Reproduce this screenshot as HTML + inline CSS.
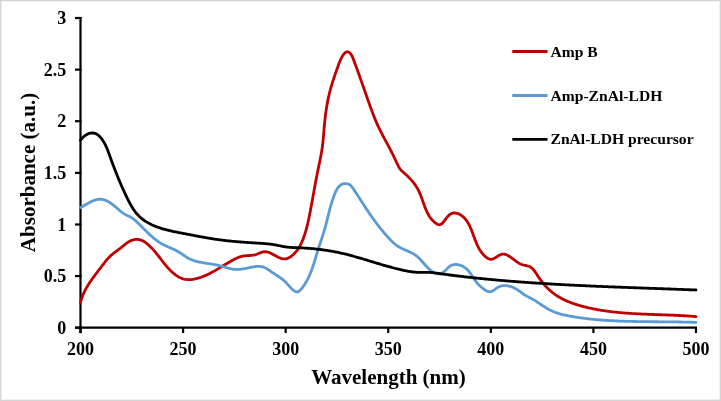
<!DOCTYPE html>
<html><head><meta charset="utf-8"><style>
html,body{margin:0;padding:0;background:#fff;}
body{width:721px;height:401px;overflow:hidden;}
svg{display:block;will-change:transform;font-family:"Liberation Serif",serif;font-weight:bold;}
</style></head><body>
<svg width="721" height="401" viewBox="0 0 721 401">
<rect x="0" y="0" width="721" height="401" fill="#fff"/>
<rect x="0.5" y="0.5" width="720" height="400" fill="none" stroke="#d4d4d4" stroke-width="1"/>
<rect x="1.5" y="1.5" width="718" height="398" fill="none" stroke="#efefef" stroke-width="1"/>
<g stroke="#000" stroke-width="2.2" fill="none">
<line x1="80.5" y1="17.0" x2="80.5" y2="333.2"/>
<line x1="75" y1="327.7" x2="697.0" y2="327.7"/>
<line x1="75" y1="327.70" x2="81.5" y2="327.70"/><line x1="75" y1="276.08" x2="81.5" y2="276.08"/><line x1="75" y1="224.47" x2="81.5" y2="224.47"/><line x1="75" y1="172.85" x2="81.5" y2="172.85"/><line x1="75" y1="121.23" x2="81.5" y2="121.23"/><line x1="75" y1="69.62" x2="81.5" y2="69.62"/><line x1="75" y1="18.00" x2="81.5" y2="18.00"/><line x1="80.50" y1="327.7" x2="80.50" y2="333"/><line x1="183.08" y1="327.7" x2="183.08" y2="333"/><line x1="285.67" y1="327.7" x2="285.67" y2="333"/><line x1="388.25" y1="327.7" x2="388.25" y2="333"/><line x1="490.83" y1="327.7" x2="490.83" y2="333"/><line x1="593.42" y1="327.7" x2="593.42" y2="333"/><line x1="696.00" y1="327.7" x2="696.00" y2="333"/>
</g>
<g font-size="18" fill="#000">
<text x="66.3" y="333.90" text-anchor="end">0</text><text x="66.3" y="282.28" text-anchor="end">0.5</text><text x="66.3" y="230.67" text-anchor="end">1</text><text x="66.3" y="179.05" text-anchor="end">1.5</text><text x="66.3" y="127.43" text-anchor="end">2</text><text x="66.3" y="75.82" text-anchor="end">2.5</text><text x="66.3" y="24.20" text-anchor="end">3</text>
<text x="80.50" y="354.8" text-anchor="middle">200</text><text x="183.08" y="354.8" text-anchor="middle">250</text><text x="285.67" y="354.8" text-anchor="middle">300</text><text x="388.25" y="354.8" text-anchor="middle">350</text><text x="490.83" y="354.8" text-anchor="middle">400</text><text x="593.42" y="354.8" text-anchor="middle">450</text><text x="696.00" y="354.8" text-anchor="middle">500</text>
</g>
<text x="388.5" y="383.5" font-size="21" text-anchor="middle">Wavelength (nm)</text>
<text transform="translate(34.9,172.5) rotate(-90)" font-size="21" text-anchor="middle">Absorbance (a.u.)</text>
<g fill="none" stroke-width="2.8" stroke-linejoin="round" stroke-linecap="round">
<path stroke="#C00000" d="M80.50,302.50 L80.76,301.50 L81.03,300.50 L81.32,299.52 L81.63,298.55 L81.96,297.59 L82.30,296.64 L82.67,295.70 L83.04,294.78 L83.43,293.86 L83.84,292.95 L84.26,292.05 L84.70,291.15 L85.14,290.27 L85.61,289.39 L86.08,288.52 L86.56,287.66 L87.06,286.80 L87.56,285.95 L88.08,285.11 L88.61,284.27 L89.14,283.43 L89.69,282.60 L90.24,281.78 L90.80,280.96 L91.36,280.14 L91.93,279.33 L92.51,278.52 L93.10,277.71 L93.69,276.91 L94.28,276.10 L94.88,275.30 L95.48,274.50 L96.08,273.70 L96.69,272.90 L97.29,272.10 L97.90,271.30 L98.51,270.50 L99.12,269.70 L99.73,268.90 L100.34,268.10 L100.95,267.29 L101.56,266.48 L102.17,265.68 L102.78,264.87 L103.39,264.07 L104.01,263.28 L104.63,262.49 L105.26,261.70 L105.89,260.92 L106.53,260.16 L107.18,259.40 L107.84,258.65 L108.52,257.92 L109.20,257.20 L109.89,256.49 L110.60,255.80 L111.33,255.13 L112.07,254.48 L112.82,253.84 L113.59,253.23 L114.38,252.63 L115.18,252.04 L115.98,251.47 L116.79,250.89 L117.60,250.31 L118.41,249.72 L119.21,249.13 L120.00,248.52 L120.78,247.89 L121.56,247.25 L122.33,246.60 L123.11,245.96 L123.88,245.31 L124.67,244.68 L125.46,244.05 L126.27,243.44 L127.09,242.86 L127.94,242.30 L128.80,241.77 L129.69,241.27 L130.60,240.82 L131.52,240.41 L132.46,240.06 L133.40,239.77 L134.35,239.54 L135.29,239.38 L136.24,239.30 L137.18,239.30 L138.11,239.38 L139.04,239.54 L139.95,239.77 L140.86,240.06 L141.76,240.42 L142.64,240.84 L143.52,241.31 L144.38,241.82 L145.23,242.38 L146.07,242.99 L146.90,243.62 L147.71,244.29 L148.50,244.98 L149.28,245.69 L150.05,246.42 L150.80,247.16 L151.53,247.91 L152.24,248.66 L152.94,249.42 L153.62,250.18 L154.29,250.94 L154.95,251.71 L155.60,252.48 L156.23,253.25 L156.86,254.03 L157.48,254.80 L158.09,255.58 L158.70,256.36 L159.30,257.14 L159.90,257.91 L160.50,258.69 L161.09,259.47 L161.69,260.24 L162.29,261.02 L162.89,261.79 L163.49,262.56 L164.10,263.32 L164.72,264.09 L165.34,264.85 L165.97,265.60 L166.61,266.35 L167.26,267.10 L167.92,267.84 L168.60,268.57 L169.28,269.30 L169.99,270.02 L170.71,270.73 L171.44,271.44 L172.19,272.13 L172.96,272.81 L173.74,273.47 L174.54,274.11 L175.35,274.73 L176.17,275.32 L177.01,275.89 L177.87,276.43 L178.73,276.93 L179.61,277.40 L180.51,277.83 L181.42,278.22 L182.34,278.57 L183.27,278.87 L184.21,279.12 L185.17,279.32 L186.14,279.48 L187.12,279.58 L188.11,279.64 L189.10,279.65 L190.10,279.62 L191.10,279.55 L192.11,279.44 L193.12,279.30 L194.12,279.13 L195.13,278.93 L196.13,278.70 L197.13,278.45 L198.12,278.17 L199.10,277.88 L200.08,277.56 L201.04,277.24 L201.99,276.89 L202.94,276.54 L203.88,276.17 L204.80,275.78 L205.72,275.39 L206.64,274.98 L207.54,274.56 L208.44,274.13 L209.33,273.69 L210.22,273.24 L211.10,272.79 L211.98,272.32 L212.85,271.85 L213.72,271.37 L214.58,270.88 L215.44,270.39 L216.30,269.89 L217.15,269.39 L218.00,268.88 L218.86,268.37 L219.70,267.86 L220.55,267.35 L221.40,266.83 L222.25,266.31 L223.10,265.79 L223.95,265.28 L224.80,264.76 L225.66,264.24 L226.51,263.73 L227.37,263.22 L228.23,262.71 L229.09,262.21 L229.96,261.71 L230.83,261.21 L231.71,260.72 L232.59,260.24 L233.48,259.76 L234.37,259.29 L235.27,258.83 L236.18,258.39 L237.10,257.96 L238.02,257.56 L238.95,257.19 L239.89,256.85 L240.83,256.55 L241.79,256.29 L242.76,256.09 L243.73,255.93 L244.72,255.81 L245.71,255.72 L246.70,255.65 L247.70,255.60 L248.71,255.55 L249.71,255.50 L250.71,255.43 L251.71,255.34 L252.71,255.21 L253.70,255.04 L254.69,254.82 L255.66,254.55 L256.63,254.22 L257.59,253.86 L258.55,253.48 L259.50,253.10 L260.44,252.73 L261.39,252.39 L262.33,252.11 L263.26,251.89 L264.20,251.75 L265.14,251.70 L266.08,251.76 L267.02,251.91 L267.96,252.14 L268.90,252.44 L269.84,252.81 L270.78,253.23 L271.72,253.68 L272.66,254.17 L273.60,254.69 L274.54,255.21 L275.47,255.74 L276.41,256.25 L277.34,256.75 L278.28,257.23 L279.21,257.66 L280.14,258.05 L281.06,258.38 L281.99,258.64 L282.91,258.82 L283.83,258.92 L284.74,258.91 L285.65,258.81 L286.56,258.62 L287.46,258.35 L288.34,257.99 L289.22,257.57 L290.08,257.07 L290.92,256.52 L291.74,255.91 L292.55,255.26 L293.33,254.56 L294.09,253.83 L294.82,253.07 L295.52,252.30 L296.19,251.50 L296.83,250.69 L297.44,249.87 L298.02,249.04 L298.57,248.20 L299.10,247.35 L299.61,246.49 L300.09,245.62 L300.55,244.74 L301.00,243.85 L301.42,242.95 L301.83,242.05 L302.22,241.14 L302.60,240.23 L302.96,239.31 L303.32,238.38 L303.66,237.45 L303.99,236.52 L304.32,235.58 L304.63,234.64 L304.94,233.70 L305.24,232.75 L305.53,231.80 L305.81,230.84 L306.09,229.89 L306.35,228.93 L306.61,227.96 L306.87,227.00 L307.12,226.03 L307.36,225.06 L307.59,224.09 L307.82,223.11 L308.05,222.13 L308.27,221.16 L308.48,220.18 L308.70,219.19 L308.90,218.21 L309.11,217.23 L309.31,216.25 L309.51,215.26 L309.70,214.28 L309.89,213.29 L310.08,212.30 L310.27,211.32 L310.46,210.33 L310.64,209.35 L310.83,208.36 L311.01,207.37 L311.19,206.39 L311.38,205.40 L311.56,204.42 L311.74,203.44 L311.92,202.45 L312.10,201.47 L312.27,200.48 L312.45,199.50 L312.63,198.52 L312.81,197.53 L312.99,196.55 L313.16,195.57 L313.34,194.59 L313.52,193.60 L313.69,192.62 L313.87,191.64 L314.05,190.66 L314.23,189.67 L314.41,188.69 L314.58,187.71 L314.76,186.73 L314.94,185.75 L315.12,184.77 L315.31,183.79 L315.49,182.80 L315.67,181.82 L315.85,180.84 L316.04,179.86 L316.23,178.88 L316.41,177.90 L316.60,176.92 L316.79,175.94 L316.98,174.96 L317.18,173.98 L317.37,173.00 L317.57,172.02 L317.76,171.04 L317.96,170.06 L318.16,169.08 L318.37,168.09 L318.57,167.11 L318.78,166.13 L318.98,165.15 L319.19,164.17 L319.39,163.19 L319.59,162.21 L319.79,161.23 L319.99,160.25 L320.19,159.26 L320.39,158.28 L320.58,157.30 L320.77,156.32 L320.95,155.33 L321.14,154.35 L321.31,153.36 L321.48,152.38 L321.65,151.39 L321.81,150.41 L321.97,149.42 L322.11,148.43 L322.25,147.44 L322.39,146.46 L322.51,145.47 L322.63,144.48 L322.75,143.49 L322.86,142.50 L322.96,141.51 L323.06,140.51 L323.16,139.52 L323.25,138.53 L323.34,137.54 L323.42,136.54 L323.51,135.55 L323.59,134.55 L323.67,133.56 L323.75,132.56 L323.84,131.57 L323.92,130.57 L324.00,129.58 L324.09,128.58 L324.17,127.59 L324.26,126.59 L324.35,125.60 L324.45,124.60 L324.54,123.61 L324.64,122.61 L324.75,121.61 L324.85,120.62 L324.96,119.62 L325.07,118.63 L325.19,117.64 L325.31,116.64 L325.43,115.65 L325.55,114.66 L325.68,113.66 L325.82,112.67 L325.96,111.68 L326.10,110.69 L326.25,109.70 L326.40,108.71 L326.55,107.72 L326.71,106.73 L326.88,105.75 L327.05,104.76 L327.22,103.78 L327.40,102.79 L327.58,101.81 L327.77,100.83 L327.97,99.85 L328.17,98.87 L328.38,97.89 L328.59,96.91 L328.81,95.94 L329.03,94.96 L329.26,93.99 L329.50,93.02 L329.74,92.05 L329.99,91.08 L330.24,90.12 L330.50,89.15 L330.77,88.19 L331.05,87.23 L331.32,86.27 L331.61,85.31 L331.90,84.35 L332.19,83.40 L332.49,82.44 L332.80,81.49 L333.10,80.54 L333.41,79.59 L333.72,78.64 L334.04,77.69 L334.36,76.75 L334.68,75.80 L335.00,74.86 L335.33,73.91 L335.65,72.97 L335.98,72.03 L336.31,71.10 L336.63,70.16 L336.96,69.22 L337.29,68.29 L337.61,67.35 L337.94,66.42 L338.27,65.48 L338.61,64.55 L338.96,63.61 L339.33,62.67 L339.71,61.72 L340.11,60.77 L340.54,59.82 L340.99,58.85 L341.48,57.88 L341.99,56.91 L342.55,55.95 L343.13,55.03 L343.74,54.18 L344.37,53.42 L345.04,52.77 L345.72,52.27 L346.43,51.93 L347.15,51.79 L347.89,51.85 L348.63,52.12 L349.35,52.55 L350.02,53.11 L350.63,53.78 L351.19,54.54 L351.70,55.37 L352.17,56.27 L352.60,57.21 L353.00,58.19 L353.39,59.19 L353.77,60.20 L354.14,61.21 L354.51,62.22 L354.87,63.21 L355.23,64.21 L355.60,65.19 L355.95,66.18 L356.31,67.15 L356.66,68.13 L357.01,69.10 L357.36,70.06 L357.71,71.02 L358.06,71.98 L358.40,72.94 L358.74,73.89 L359.08,74.84 L359.42,75.78 L359.76,76.73 L360.09,77.67 L360.43,78.61 L360.76,79.54 L361.09,80.48 L361.42,81.41 L361.75,82.35 L362.08,83.28 L362.41,84.21 L362.74,85.13 L363.06,86.06 L363.39,86.99 L363.72,87.92 L364.04,88.85 L364.37,89.78 L364.69,90.70 L365.02,91.63 L365.34,92.56 L365.67,93.49 L365.99,94.43 L366.32,95.36 L366.64,96.29 L366.97,97.23 L367.30,98.17 L367.63,99.11 L367.95,100.05 L368.28,100.99 L368.61,101.93 L368.95,102.88 L369.28,103.82 L369.62,104.76 L369.95,105.71 L370.29,106.65 L370.63,107.60 L370.98,108.54 L371.32,109.48 L371.67,110.43 L372.03,111.37 L372.38,112.31 L372.74,113.25 L373.10,114.19 L373.46,115.13 L373.83,116.07 L374.20,117.00 L374.58,117.93 L374.96,118.86 L375.34,119.79 L375.73,120.72 L376.12,121.64 L376.52,122.56 L376.92,123.48 L377.33,124.40 L377.74,125.31 L378.16,126.22 L378.59,127.13 L379.02,128.03 L379.45,128.93 L379.89,129.83 L380.33,130.72 L380.78,131.61 L381.23,132.50 L381.69,133.38 L382.14,134.27 L382.61,135.15 L383.07,136.03 L383.54,136.91 L384.00,137.79 L384.47,138.67 L384.94,139.55 L385.42,140.42 L385.89,141.30 L386.36,142.18 L386.84,143.05 L387.31,143.93 L387.78,144.81 L388.25,145.69 L388.72,146.57 L389.19,147.45 L389.65,148.34 L390.12,149.22 L390.58,150.11 L391.04,151.00 L391.49,151.89 L391.94,152.78 L392.39,153.68 L392.83,154.58 L393.28,155.48 L393.72,156.38 L394.15,157.29 L394.59,158.19 L395.02,159.10 L395.45,160.01 L395.88,160.92 L396.30,161.83 L396.73,162.75 L397.16,163.66 L397.59,164.57 L398.03,165.47 L398.49,166.35 L398.97,167.22 L399.49,168.06 L400.05,168.88 L400.65,169.66 L401.29,170.40 L401.98,171.11 L402.70,171.80 L403.45,172.48 L404.20,173.14 L404.97,173.80 L405.72,174.47 L406.47,175.14 L407.21,175.82 L407.94,176.51 L408.65,177.21 L409.36,177.92 L410.05,178.64 L410.73,179.36 L411.39,180.10 L412.04,180.85 L412.68,181.61 L413.31,182.38 L413.91,183.16 L414.51,183.95 L415.08,184.76 L415.64,185.57 L416.19,186.40 L416.71,187.24 L417.22,188.09 L417.71,188.96 L418.18,189.84 L418.63,190.73 L419.07,191.64 L419.49,192.55 L419.89,193.48 L420.28,194.42 L420.66,195.36 L421.03,196.31 L421.39,197.27 L421.75,198.23 L422.10,199.19 L422.44,200.16 L422.78,201.13 L423.12,202.09 L423.47,203.06 L423.81,204.03 L424.16,204.99 L424.51,205.95 L424.87,206.90 L425.24,207.85 L425.62,208.79 L426.01,209.72 L426.41,210.64 L426.82,211.55 L427.25,212.45 L427.70,213.34 L428.17,214.21 L428.65,215.07 L429.16,215.91 L429.69,216.74 L430.25,217.54 L430.83,218.33 L431.44,219.10 L432.08,219.84 L432.74,220.57 L433.45,221.26 L434.18,221.94 L434.95,222.59 L435.75,223.20 L436.59,223.77 L437.43,224.24 L438.27,224.57 L439.09,224.75 L439.89,224.72 L440.65,224.48 L441.38,224.07 L442.09,223.49 L442.79,222.79 L443.48,221.98 L444.16,221.09 L444.86,220.16 L445.56,219.20 L446.28,218.24 L447.03,217.30 L447.80,216.42 L448.60,215.60 L449.43,214.87 L450.28,214.24 L451.16,213.73 L452.06,213.36 L452.98,213.11 L453.91,212.99 L454.85,212.98 L455.80,213.07 L456.74,213.26 L457.67,213.53 L458.59,213.89 L459.48,214.31 L460.36,214.78 L461.20,215.31 L462.00,215.88 L462.77,216.49 L463.51,217.14 L464.21,217.82 L464.88,218.53 L465.52,219.27 L466.13,220.05 L466.72,220.84 L467.27,221.67 L467.81,222.51 L468.32,223.38 L468.81,224.27 L469.28,225.17 L469.73,226.09 L470.17,227.02 L470.59,227.96 L470.99,228.91 L471.39,229.87 L471.77,230.83 L472.14,231.79 L472.51,232.76 L472.87,233.73 L473.22,234.69 L473.57,235.66 L473.92,236.62 L474.27,237.58 L474.62,238.53 L474.97,239.48 L475.33,240.43 L475.70,241.37 L476.07,242.30 L476.45,243.22 L476.85,244.14 L477.25,245.04 L477.67,245.94 L478.11,246.83 L478.57,247.70 L479.04,248.57 L479.53,249.42 L480.05,250.26 L480.59,251.08 L481.16,251.89 L481.75,252.68 L482.38,253.46 L483.03,254.22 L483.72,254.96 L484.44,255.69 L485.19,256.39 L485.98,257.07 L486.80,257.69 L487.64,258.24 L488.50,258.69 L489.38,259.03 L490.26,259.23 L491.15,259.28 L492.05,259.16 L492.94,258.90 L493.84,258.52 L494.74,258.05 L495.65,257.52 L496.56,256.95 L497.47,256.37 L498.39,255.80 L499.32,255.28 L500.25,254.82 L501.19,254.46 L502.14,254.22 L503.09,254.13 L504.05,254.18 L505.01,254.35 L505.96,254.64 L506.90,255.01 L507.83,255.46 L508.73,255.96 L509.61,256.50 L510.47,257.06 L511.30,257.65 L512.12,258.25 L512.93,258.86 L513.73,259.48 L514.53,260.10 L515.33,260.71 L516.13,261.30 L516.94,261.88 L517.77,262.43 L518.61,262.96 L519.47,263.44 L520.35,263.89 L521.26,264.28 L522.20,264.62 L523.18,264.91 L524.19,265.14 L525.22,265.34 L526.24,265.54 L527.24,265.76 L528.20,266.03 L529.11,266.37 L529.97,266.79 L530.77,267.28 L531.52,267.83 L532.24,268.44 L532.91,269.10 L533.55,269.81 L534.17,270.56 L534.76,271.34 L535.34,272.16 L535.90,272.99 L536.45,273.84 L537.00,274.70 L537.55,275.56 L538.11,276.42 L538.68,277.28 L539.25,278.12 L539.84,278.96 L540.44,279.79 L541.04,280.61 L541.66,281.42 L542.28,282.22 L542.92,283.02 L543.57,283.80 L544.22,284.57 L544.89,285.33 L545.57,286.08 L546.25,286.82 L546.95,287.55 L547.66,288.26 L548.37,288.96 L549.10,289.65 L549.84,290.33 L550.59,290.99 L551.34,291.63 L552.11,292.26 L552.89,292.88 L553.68,293.48 L554.48,294.07 L555.29,294.64 L556.10,295.20 L556.93,295.74 L557.76,296.27 L558.61,296.79 L559.46,297.29 L560.32,297.78 L561.19,298.26 L562.06,298.73 L562.95,299.18 L563.84,299.62 L564.73,300.05 L565.64,300.47 L566.54,300.87 L567.46,301.27 L568.38,301.66 L569.31,302.03 L570.24,302.40 L571.17,302.75 L572.11,303.10 L573.06,303.44 L574.00,303.76 L574.96,304.08 L575.91,304.39 L576.87,304.70 L577.83,304.99 L578.80,305.28 L579.76,305.56 L580.73,305.83 L581.70,306.10 L582.67,306.36 L583.65,306.61 L584.62,306.86 L585.60,307.10 L586.57,307.34 L587.55,307.57 L588.53,307.80 L589.51,308.02 L590.48,308.23 L591.46,308.44 L592.44,308.65 L593.42,308.85 L594.40,309.04 L595.39,309.23 L596.37,309.42 L597.35,309.60 L598.34,309.77 L599.32,309.94 L600.30,310.11 L601.29,310.27 L602.28,310.43 L603.26,310.59 L604.25,310.73 L605.24,310.88 L606.22,311.02 L607.21,311.16 L608.20,311.29 L609.19,311.42 L610.18,311.55 L611.17,311.67 L612.16,311.79 L613.15,311.91 L614.14,312.02 L615.14,312.13 L616.13,312.23 L617.12,312.33 L618.11,312.43 L619.11,312.53 L620.10,312.62 L621.10,312.71 L622.09,312.80 L623.09,312.88 L624.08,312.96 L625.08,313.04 L626.07,313.12 L627.07,313.19 L628.07,313.26 L629.06,313.33 L630.06,313.40 L631.06,313.46 L632.05,313.53 L633.05,313.59 L634.05,313.64 L635.05,313.70 L636.05,313.76 L637.05,313.81 L638.05,313.86 L639.04,313.91 L640.04,313.96 L641.04,314.01 L642.04,314.05 L643.04,314.10 L644.04,314.14 L645.04,314.18 L646.04,314.22 L647.04,314.26 L648.04,314.30 L649.04,314.34 L650.05,314.38 L651.05,314.42 L652.05,314.45 L653.05,314.49 L654.05,314.52 L655.05,314.56 L656.05,314.59 L657.05,314.63 L658.05,314.66 L659.05,314.70 L660.05,314.73 L661.06,314.77 L662.06,314.80 L663.06,314.84 L664.06,314.87 L665.06,314.91 L666.06,314.94 L667.06,314.98 L668.06,315.02 L669.06,315.05 L670.06,315.09 L671.06,315.13 L672.06,315.17 L673.06,315.21 L674.06,315.25 L675.06,315.30 L676.06,315.34 L677.06,315.39 L678.06,315.44 L679.06,315.48 L680.06,315.53 L681.05,315.59 L682.05,315.64 L683.05,315.69 L684.05,315.75 L685.05,315.81 L686.04,315.87 L687.04,315.93 L688.04,316.00 L689.03,316.07 L690.03,316.13 L691.03,316.21 L692.02,316.28 L693.02,316.36 L694.01,316.44 L695.01,316.52 L696.00,316.60"/>
<path stroke="#5B9BD5" d="M80.50,207.60 L81.28,207.17 L82.08,206.71 L82.90,206.22 L83.74,205.73 L84.60,205.21 L85.48,204.70 L86.37,204.18 L87.28,203.66 L88.20,203.14 L89.14,202.64 L90.08,202.16 L91.03,201.69 L91.99,201.26 L92.96,200.85 L93.93,200.47 L94.90,200.14 L95.87,199.85 L96.84,199.61 L97.81,199.42 L98.78,199.30 L99.74,199.23 L100.70,199.23 L101.64,199.31 L102.58,199.45 L103.52,199.65 L104.44,199.91 L105.35,200.23 L106.26,200.60 L107.15,201.02 L108.04,201.48 L108.91,201.98 L109.78,202.51 L110.63,203.07 L111.47,203.67 L112.30,204.28 L113.12,204.91 L113.93,205.56 L114.72,206.21 L115.51,206.88 L116.27,207.54 L117.03,208.20 L117.78,208.86 L118.52,209.51 L119.25,210.15 L120.00,210.78 L120.74,211.40 L121.50,212.00 L122.27,212.58 L123.07,213.13 L123.88,213.67 L124.72,214.17 L125.59,214.65 L126.50,215.10 L127.43,215.53 L128.37,215.95 L129.30,216.38 L130.21,216.84 L131.08,217.34 L131.93,217.87 L132.75,218.43 L133.54,219.02 L134.31,219.64 L135.06,220.27 L135.80,220.93 L136.53,221.60 L137.25,222.28 L137.96,222.97 L138.67,223.67 L139.38,224.37 L140.09,225.08 L140.80,225.79 L141.50,226.50 L142.21,227.21 L142.92,227.93 L143.63,228.64 L144.34,229.35 L145.05,230.07 L145.77,230.78 L146.48,231.49 L147.20,232.19 L147.93,232.89 L148.65,233.59 L149.39,234.28 L150.12,234.96 L150.86,235.64 L151.61,236.31 L152.36,236.97 L153.12,237.62 L153.89,238.26 L154.66,238.89 L155.44,239.50 L156.23,240.11 L157.03,240.70 L157.83,241.28 L158.65,241.84 L159.47,242.39 L160.31,242.92 L161.15,243.43 L162.01,243.93 L162.88,244.41 L163.75,244.87 L164.64,245.31 L165.54,245.74 L166.45,246.15 L167.36,246.56 L168.27,246.96 L169.19,247.36 L170.11,247.76 L171.03,248.15 L171.95,248.55 L172.87,248.96 L173.78,249.38 L174.69,249.81 L175.59,250.25 L176.49,250.71 L177.37,251.19 L178.24,251.69 L179.11,252.21 L179.96,252.75 L180.81,253.31 L181.65,253.87 L182.48,254.44 L183.32,255.00 L184.15,255.57 L184.99,256.12 L185.83,256.67 L186.68,257.20 L187.53,257.70 L188.40,258.19 L189.27,258.64 L190.15,259.07 L191.05,259.47 L191.95,259.84 L192.87,260.18 L193.79,260.51 L194.72,260.81 L195.66,261.09 L196.61,261.36 L197.57,261.60 L198.53,261.83 L199.50,262.05 L200.47,262.25 L201.45,262.44 L202.43,262.62 L203.42,262.80 L204.41,262.96 L205.40,263.12 L206.40,263.28 L207.39,263.43 L208.39,263.58 L209.40,263.73 L210.40,263.88 L211.40,264.04 L212.40,264.20 L213.40,264.36 L214.40,264.53 L215.40,264.71 L216.39,264.91 L217.38,265.11 L218.37,265.32 L219.35,265.56 L220.33,265.80 L221.31,266.06 L222.28,266.34 L223.25,266.62 L224.21,266.91 L225.18,267.20 L226.14,267.49 L227.10,267.77 L228.05,268.04 L229.01,268.30 L229.97,268.54 L230.93,268.76 L231.89,268.96 L232.86,269.13 L233.82,269.27 L234.79,269.38 L235.77,269.45 L236.74,269.48 L237.73,269.47 L238.71,269.43 L239.70,269.35 L240.69,269.25 L241.69,269.12 L242.69,268.97 L243.70,268.81 L244.70,268.62 L245.71,268.42 L246.73,268.21 L247.75,268.00 L248.77,267.78 L249.79,267.56 L250.82,267.34 L251.84,267.14 L252.87,266.95 L253.89,266.78 L254.90,266.63 L255.91,266.51 L256.91,266.43 L257.91,266.38 L258.89,266.38 L259.86,266.43 L260.82,266.53 L261.77,266.68 L262.71,266.90 L263.62,267.19 L264.52,267.54 L265.41,267.95 L266.29,268.40 L267.15,268.90 L268.01,269.44 L268.86,270.00 L269.70,270.58 L270.54,271.17 L271.38,271.77 L272.22,272.36 L273.06,272.94 L273.91,273.51 L274.75,274.07 L275.60,274.62 L276.44,275.17 L277.28,275.71 L278.12,276.25 L278.94,276.80 L279.76,277.35 L280.57,277.92 L281.37,278.49 L282.15,279.08 L282.92,279.69 L283.67,280.31 L284.40,280.96 L285.12,281.64 L285.81,282.34 L286.50,283.07 L287.17,283.82 L287.85,284.58 L288.53,285.35 L289.22,286.13 L289.92,286.92 L290.65,287.71 L291.40,288.49 L292.19,289.27 L293.01,290.01 L293.85,290.70 L294.70,291.27 L295.55,291.70 L296.38,291.94 L297.19,291.96 L297.98,291.76 L298.74,291.37 L299.47,290.84 L300.18,290.19 L300.87,289.46 L301.54,288.67 L302.18,287.87 L302.80,287.05 L303.41,286.23 L303.99,285.39 L304.56,284.55 L305.11,283.71 L305.64,282.85 L306.15,281.99 L306.65,281.12 L307.14,280.24 L307.60,279.36 L308.06,278.47 L308.50,277.57 L308.92,276.67 L309.34,275.77 L309.74,274.86 L310.13,273.94 L310.51,273.02 L310.88,272.09 L311.24,271.16 L311.59,270.23 L311.93,269.29 L312.26,268.35 L312.59,267.40 L312.91,266.46 L313.23,265.51 L313.54,264.55 L313.84,263.60 L314.14,262.64 L314.44,261.68 L314.73,260.72 L315.02,259.76 L315.31,258.80 L315.60,257.83 L315.88,256.87 L316.17,255.90 L316.46,254.94 L316.75,253.97 L317.04,253.01 L317.33,252.04 L317.62,251.08 L317.92,250.12 L318.23,249.16 L318.53,248.20 L318.84,247.24 L319.15,246.28 L319.47,245.33 L319.78,244.37 L320.10,243.42 L320.42,242.47 L320.74,241.51 L321.05,240.56 L321.37,239.61 L321.69,238.66 L322.00,237.71 L322.32,236.76 L322.63,235.81 L322.93,234.86 L323.24,233.91 L323.54,232.96 L323.84,232.01 L324.13,231.06 L324.41,230.11 L324.69,229.16 L324.97,228.21 L325.24,227.26 L325.50,226.31 L325.76,225.36 L326.01,224.40 L326.26,223.45 L326.50,222.50 L326.74,221.54 L326.98,220.59 L327.22,219.63 L327.45,218.68 L327.69,217.72 L327.92,216.77 L328.15,215.81 L328.39,214.85 L328.63,213.89 L328.86,212.93 L329.10,211.97 L329.35,211.01 L329.59,210.05 L329.85,209.08 L330.10,208.12 L330.36,207.15 L330.63,206.18 L330.90,205.22 L331.19,204.25 L331.47,203.28 L331.77,202.31 L332.08,201.34 L332.39,200.36 L332.72,199.39 L333.05,198.41 L333.40,197.44 L333.76,196.46 L334.13,195.48 L334.51,194.50 L334.91,193.52 L335.33,192.54 L335.76,191.58 L336.22,190.64 L336.70,189.73 L337.22,188.85 L337.77,188.01 L338.35,187.23 L338.98,186.50 L339.65,185.83 L340.36,185.24 L341.13,184.72 L341.94,184.29 L342.82,183.96 L343.73,183.71 L344.68,183.57 L345.63,183.54 L346.59,183.61 L347.52,183.79 L348.43,184.08 L349.28,184.49 L350.07,185.02 L350.81,185.65 L351.50,186.37 L352.15,187.16 L352.77,187.99 L353.37,188.86 L353.95,189.74 L354.53,190.62 L355.11,191.50 L355.68,192.37 L356.24,193.24 L356.81,194.11 L357.36,194.97 L357.92,195.83 L358.47,196.68 L359.02,197.54 L359.57,198.39 L360.11,199.23 L360.66,200.08 L361.20,200.92 L361.74,201.75 L362.28,202.59 L362.82,203.42 L363.36,204.26 L363.90,205.09 L364.44,205.91 L364.98,206.74 L365.52,207.56 L366.06,208.39 L366.61,209.21 L367.15,210.03 L367.70,210.84 L368.25,211.66 L368.80,212.48 L369.35,213.29 L369.91,214.11 L370.47,214.92 L371.03,215.74 L371.60,216.55 L372.18,217.36 L372.75,218.18 L373.33,218.99 L373.92,219.80 L374.51,220.61 L375.10,221.42 L375.70,222.23 L376.30,223.04 L376.91,223.84 L377.52,224.64 L378.13,225.44 L378.75,226.24 L379.37,227.04 L380.00,227.83 L380.63,228.62 L381.26,229.40 L381.90,230.19 L382.54,230.96 L383.18,231.74 L383.83,232.51 L384.48,233.27 L385.14,234.04 L385.80,234.79 L386.46,235.54 L387.13,236.29 L387.80,237.03 L388.47,237.76 L389.14,238.49 L389.82,239.21 L390.51,239.93 L391.20,240.63 L391.90,241.32 L392.61,242.00 L393.33,242.67 L394.07,243.32 L394.82,243.95 L395.58,244.57 L396.36,245.17 L397.16,245.74 L397.97,246.29 L398.81,246.82 L399.67,247.33 L400.55,247.81 L401.45,248.27 L402.36,248.72 L403.28,249.15 L404.21,249.57 L405.15,249.98 L406.09,250.39 L407.03,250.80 L407.97,251.21 L408.91,251.62 L409.83,252.04 L410.75,252.47 L411.64,252.92 L412.53,253.38 L413.39,253.86 L414.23,254.37 L415.04,254.90 L415.83,255.46 L416.59,256.04 L417.33,256.66 L418.05,257.29 L418.75,257.95 L419.43,258.63 L420.11,259.32 L420.78,260.03 L421.44,260.76 L422.10,261.49 L422.76,262.24 L423.42,262.99 L424.09,263.75 L424.76,264.52 L425.45,265.29 L426.15,266.05 L426.87,266.82 L427.61,267.58 L428.37,268.34 L429.15,269.09 L429.96,269.81 L430.78,270.50 L431.61,271.15 L432.46,271.76 L433.32,272.30 L434.19,272.78 L435.07,273.19 L435.95,273.51 L436.84,273.74 L437.73,273.86 L438.61,273.88 L439.50,273.79 L440.38,273.59 L441.25,273.28 L442.11,272.89 L442.96,272.40 L443.79,271.83 L444.61,271.19 L445.41,270.47 L446.19,269.70 L446.96,268.90 L447.73,268.10 L448.52,267.34 L449.33,266.66 L450.17,266.07 L451.04,265.57 L451.93,265.18 L452.84,264.87 L453.77,264.65 L454.72,264.52 L455.67,264.47 L456.63,264.49 L457.59,264.60 L458.55,264.77 L459.51,265.00 L460.45,265.31 L461.39,265.67 L462.30,266.09 L463.19,266.56 L464.06,267.08 L464.90,267.64 L465.71,268.25 L466.48,268.90 L467.22,269.59 L467.92,270.30 L468.59,271.05 L469.23,271.82 L469.85,272.61 L470.45,273.42 L471.04,274.24 L471.61,275.08 L472.17,275.92 L472.73,276.77 L473.29,277.62 L473.85,278.46 L474.41,279.30 L474.98,280.13 L475.56,280.95 L476.16,281.75 L476.78,282.53 L477.42,283.29 L478.08,284.03 L478.76,284.75 L479.47,285.46 L480.20,286.15 L480.95,286.83 L481.73,287.51 L482.54,288.17 L483.37,288.82 L484.23,289.47 L485.10,290.07 L486.00,290.61 L486.90,291.08 L487.81,291.44 L488.72,291.68 L489.63,291.77 L490.53,291.69 L491.43,291.44 L492.31,291.05 L493.20,290.55 L494.08,289.97 L494.96,289.34 L495.84,288.70 L496.74,288.08 L497.64,287.50 L498.55,287.00 L499.47,286.58 L500.40,286.23 L501.34,285.95 L502.28,285.75 L503.23,285.61 L504.18,285.54 L505.14,285.53 L506.10,285.57 L507.05,285.68 L508.01,285.83 L508.96,286.04 L509.91,286.29 L510.86,286.59 L511.80,286.93 L512.73,287.30 L513.65,287.72 L514.56,288.17 L515.46,288.64 L516.35,289.15 L517.22,289.68 L518.08,290.23 L518.93,290.80 L519.75,291.39 L520.57,291.99 L521.37,292.59 L522.18,293.19 L522.99,293.77 L523.80,294.34 L524.62,294.89 L525.46,295.41 L526.32,295.91 L527.19,296.37 L528.07,296.83 L528.96,297.28 L529.84,297.72 L530.73,298.18 L531.60,298.64 L532.47,299.13 L533.34,299.62 L534.19,300.13 L535.05,300.65 L535.89,301.18 L536.74,301.72 L537.58,302.26 L538.42,302.81 L539.26,303.36 L540.09,303.91 L540.93,304.47 L541.76,305.02 L542.60,305.57 L543.44,306.11 L544.28,306.65 L545.13,307.19 L545.98,307.71 L546.83,308.23 L547.69,308.73 L548.56,309.22 L549.43,309.70 L550.31,310.16 L551.20,310.61 L552.10,311.03 L553.00,311.44 L553.92,311.82 L554.84,312.19 L555.78,312.54 L556.72,312.87 L557.67,313.19 L558.62,313.49 L559.58,313.77 L560.55,314.05 L561.52,314.31 L562.49,314.55 L563.47,314.79 L564.45,315.02 L565.44,315.24 L566.43,315.44 L567.42,315.65 L568.41,315.84 L569.40,316.03 L570.39,316.21 L571.38,316.39 L572.37,316.57 L573.36,316.74 L574.35,316.90 L575.34,317.07 L576.33,317.22 L577.32,317.38 L578.32,317.53 L579.31,317.67 L580.30,317.81 L581.29,317.95 L582.28,318.08 L583.27,318.22 L584.26,318.34 L585.25,318.46 L586.24,318.58 L587.23,318.70 L588.22,318.81 L589.22,318.92 L590.21,319.03 L591.20,319.13 L592.19,319.23 L593.18,319.33 L594.17,319.43 L595.17,319.52 L596.16,319.61 L597.15,319.69 L598.15,319.78 L599.14,319.86 L600.13,319.94 L601.13,320.02 L602.12,320.09 L603.11,320.16 L604.11,320.23 L605.10,320.30 L606.10,320.37 L607.09,320.43 L608.09,320.49 L609.09,320.55 L610.08,320.61 L611.08,320.66 L612.07,320.72 L613.07,320.77 L614.07,320.82 L615.06,320.86 L616.06,320.91 L617.06,320.95 L618.06,321.00 L619.05,321.04 L620.05,321.08 L621.05,321.11 L622.05,321.15 L623.05,321.19 L624.04,321.22 L625.04,321.25 L626.04,321.28 L627.04,321.31 L628.04,321.34 L629.04,321.37 L630.04,321.39 L631.04,321.41 L632.04,321.44 L633.04,321.46 L634.04,321.48 L635.04,321.50 L636.04,321.52 L637.04,321.54 L638.04,321.55 L639.04,321.57 L640.04,321.59 L641.04,321.60 L642.04,321.62 L643.04,321.63 L644.04,321.64 L645.04,321.65 L646.04,321.67 L647.04,321.68 L648.04,321.69 L649.04,321.70 L650.04,321.71 L651.04,321.72 L652.04,321.72 L653.04,321.73 L654.04,321.74 L655.04,321.75 L656.04,321.76 L657.04,321.77 L658.04,321.77 L659.04,321.78 L660.04,321.79 L661.05,321.80 L662.05,321.80 L663.05,321.81 L664.05,321.82 L665.05,321.83 L666.05,321.84 L667.05,321.85 L668.05,321.86 L669.05,321.86 L670.05,321.87 L671.05,321.88 L672.05,321.90 L673.05,321.91 L674.05,321.92 L675.04,321.93 L676.04,321.94 L677.04,321.96 L678.04,321.97 L679.04,321.99 L680.04,322.00 L681.04,322.02 L682.04,322.04 L683.04,322.06 L684.03,322.08 L685.03,322.10 L686.03,322.12 L687.03,322.14 L688.03,322.16 L689.02,322.19 L690.02,322.22 L691.02,322.24 L692.01,322.27 L693.01,322.30 L694.01,322.33 L695.00,322.37 L696.00,322.40"/>
<path stroke="#000000" d="M80.50,140.30 L81.06,139.51 L81.68,138.72 L82.36,137.95 L83.09,137.21 L83.87,136.50 L84.69,135.84 L85.54,135.22 L86.43,134.67 L87.34,134.18 L88.28,133.77 L89.22,133.44 L90.18,133.20 L91.13,133.05 L92.08,132.99 L93.02,133.01 L93.95,133.13 L94.85,133.34 L95.72,133.65 L96.56,134.05 L97.36,134.53 L98.14,135.08 L98.88,135.71 L99.59,136.38 L100.28,137.11 L100.93,137.88 L101.56,138.67 L102.16,139.49 L102.73,140.33 L103.28,141.18 L103.81,142.04 L104.31,142.92 L104.79,143.81 L105.26,144.71 L105.70,145.63 L106.13,146.55 L106.55,147.48 L106.95,148.41 L107.34,149.36 L107.71,150.30 L108.08,151.26 L108.44,152.21 L108.80,153.17 L109.14,154.12 L109.49,155.08 L109.83,156.04 L110.17,156.99 L110.51,157.94 L110.86,158.89 L111.20,159.83 L111.54,160.77 L111.89,161.71 L112.23,162.65 L112.58,163.58 L112.92,164.51 L113.27,165.43 L113.62,166.36 L113.97,167.28 L114.32,168.20 L114.68,169.12 L115.03,170.04 L115.39,170.95 L115.75,171.87 L116.11,172.78 L116.47,173.69 L116.83,174.60 L117.20,175.51 L117.57,176.42 L117.94,177.33 L118.31,178.24 L118.69,179.14 L119.07,180.05 L119.45,180.95 L119.83,181.86 L120.22,182.77 L120.61,183.67 L121.00,184.58 L121.40,185.49 L121.79,186.39 L122.20,187.30 L122.60,188.21 L123.01,189.12 L123.42,190.03 L123.84,190.95 L124.26,191.86 L124.68,192.78 L125.11,193.69 L125.54,194.61 L125.98,195.53 L126.42,196.46 L126.86,197.38 L127.31,198.30 L127.77,199.23 L128.23,200.15 L128.70,201.07 L129.17,201.98 L129.66,202.89 L130.15,203.80 L130.65,204.70 L131.16,205.59 L131.68,206.47 L132.21,207.34 L132.75,208.20 L133.30,209.05 L133.87,209.88 L134.45,210.70 L135.04,211.51 L135.64,212.30 L136.26,213.07 L136.89,213.82 L137.54,214.56 L138.21,215.27 L138.89,215.97 L139.59,216.64 L140.30,217.30 L141.02,217.94 L141.76,218.56 L142.52,219.16 L143.28,219.74 L144.06,220.30 L144.86,220.85 L145.66,221.38 L146.48,221.90 L147.31,222.40 L148.15,222.88 L149.00,223.35 L149.86,223.80 L150.74,224.24 L151.62,224.67 L152.51,225.08 L153.41,225.48 L154.32,225.87 L155.24,226.24 L156.17,226.61 L157.10,226.96 L158.04,227.30 L158.99,227.63 L159.94,227.95 L160.90,228.26 L161.87,228.56 L162.84,228.85 L163.81,229.13 L164.79,229.40 L165.78,229.67 L166.77,229.92 L167.76,230.18 L168.76,230.42 L169.75,230.66 L170.76,230.89 L171.76,231.12 L172.76,231.34 L173.77,231.55 L174.78,231.76 L175.78,231.97 L176.79,232.18 L177.80,232.38 L178.80,232.58 L179.81,232.77 L180.81,232.96 L181.82,233.16 L182.82,233.35 L183.82,233.54 L184.81,233.73 L185.80,233.92 L186.79,234.11 L187.78,234.30 L188.76,234.48 L189.75,234.67 L190.72,234.86 L191.70,235.05 L192.67,235.24 L193.65,235.42 L194.62,235.61 L195.59,235.79 L196.55,235.98 L197.52,236.16 L198.48,236.34 L199.45,236.52 L200.41,236.70 L201.37,236.88 L202.34,237.05 L203.30,237.23 L204.26,237.40 L205.22,237.57 L206.18,237.74 L207.14,237.91 L208.11,238.07 L209.07,238.24 L210.03,238.40 L211.00,238.55 L211.96,238.71 L212.93,238.86 L213.90,239.01 L214.87,239.16 L215.84,239.31 L216.82,239.45 L217.80,239.59 L218.77,239.72 L219.76,239.85 L220.74,239.98 L221.73,240.11 L222.72,240.23 L223.71,240.35 L224.70,240.47 L225.70,240.58 L226.69,240.69 L227.69,240.80 L228.69,240.90 L229.69,241.01 L230.70,241.11 L231.70,241.20 L232.71,241.30 L233.71,241.39 L234.72,241.48 L235.73,241.57 L236.74,241.66 L237.75,241.74 L238.76,241.82 L239.77,241.90 L240.78,241.98 L241.79,242.06 L242.80,242.13 L243.81,242.21 L244.82,242.28 L245.83,242.35 L246.83,242.42 L247.84,242.49 L248.85,242.55 L249.85,242.62 L250.86,242.68 L251.86,242.75 L252.86,242.81 L253.86,242.87 L254.86,242.93 L255.86,242.99 L256.85,243.05 L257.84,243.11 L258.84,243.17 L259.83,243.24 L260.81,243.30 L261.80,243.37 L262.79,243.44 L263.77,243.52 L264.76,243.60 L265.74,243.69 L266.72,243.78 L267.71,243.87 L268.69,243.98 L269.67,244.09 L270.65,244.21 L271.63,244.34 L272.61,244.48 L273.60,244.63 L274.58,244.79 L275.56,244.96 L276.54,245.14 L277.52,245.34 L278.51,245.54 L279.49,245.75 L280.48,245.95 L281.46,246.16 L282.45,246.35 L283.44,246.54 L284.42,246.71 L285.41,246.87 L286.40,247.00 L287.39,247.12 L288.39,247.22 L289.38,247.31 L290.37,247.38 L291.37,247.45 L292.36,247.50 L293.36,247.55 L294.36,247.59 L295.35,247.63 L296.35,247.67 L297.35,247.70 L298.35,247.74 L299.34,247.78 L300.34,247.82 L301.34,247.87 L302.34,247.92 L303.33,247.97 L304.33,248.03 L305.33,248.09 L306.32,248.16 L307.32,248.23 L308.32,248.30 L309.31,248.38 L310.31,248.46 L311.30,248.54 L312.30,248.63 L313.29,248.73 L314.29,248.82 L315.28,248.93 L316.28,249.03 L317.27,249.14 L318.26,249.25 L319.25,249.37 L320.25,249.49 L321.24,249.62 L322.23,249.75 L323.22,249.88 L324.20,250.02 L325.19,250.17 L326.18,250.31 L327.17,250.47 L328.15,250.62 L329.14,250.78 L330.12,250.95 L331.10,251.12 L332.09,251.29 L333.07,251.47 L334.05,251.65 L335.03,251.84 L336.01,252.03 L336.98,252.23 L337.96,252.43 L338.94,252.64 L339.91,252.85 L340.88,253.06 L341.85,253.28 L342.82,253.51 L343.79,253.74 L344.76,253.97 L345.73,254.21 L346.70,254.45 L347.66,254.69 L348.63,254.94 L349.59,255.19 L350.55,255.45 L351.52,255.70 L352.48,255.97 L353.44,256.23 L354.40,256.50 L355.36,256.77 L356.32,257.04 L357.28,257.31 L358.24,257.59 L359.19,257.86 L360.15,258.14 L361.11,258.43 L362.06,258.71 L363.02,258.99 L363.98,259.28 L364.93,259.57 L365.89,259.85 L366.85,260.14 L367.80,260.43 L368.76,260.72 L369.71,261.01 L370.67,261.30 L371.62,261.59 L372.58,261.88 L373.54,262.18 L374.49,262.47 L375.45,262.76 L376.41,263.05 L377.36,263.33 L378.32,263.62 L379.28,263.91 L380.24,264.19 L381.19,264.48 L382.15,264.76 L383.11,265.04 L384.07,265.32 L385.04,265.60 L386.00,265.88 L386.96,266.15 L387.92,266.42 L388.89,266.69 L389.85,266.96 L390.82,267.22 L391.78,267.48 L392.75,267.74 L393.72,268.00 L394.69,268.25 L395.66,268.50 L396.63,268.74 L397.60,268.98 L398.58,269.22 L399.55,269.45 L400.53,269.68 L401.51,269.91 L402.49,270.12 L403.47,270.34 L404.45,270.54 L405.43,270.74 L406.41,270.93 L407.40,271.12 L408.38,271.29 L409.37,271.45 L410.35,271.61 L411.34,271.75 L412.33,271.88 L413.31,272.00 L414.30,272.10 L415.29,272.19 L416.28,272.26 L417.27,272.32 L418.26,272.37 L419.24,272.40 L420.23,272.41 L421.22,272.40 L422.21,272.39 L423.20,272.37 L424.19,272.35 L425.18,272.33 L426.16,272.32 L427.15,272.31 L428.14,272.33 L429.13,272.36 L430.11,272.41 L431.10,272.48 L432.09,272.57 L433.07,272.68 L434.06,272.79 L435.05,272.92 L436.03,273.06 L437.02,273.20 L438.00,273.34 L438.99,273.49 L439.98,273.63 L440.97,273.77 L441.95,273.91 L442.94,274.05 L443.93,274.19 L444.92,274.33 L445.91,274.46 L446.90,274.60 L447.88,274.73 L448.87,274.86 L449.86,274.99 L450.85,275.12 L451.84,275.25 L452.83,275.38 L453.83,275.50 L454.82,275.63 L455.81,275.75 L456.80,275.87 L457.79,275.99 L458.78,276.11 L459.77,276.23 L460.77,276.35 L461.76,276.47 L462.75,276.58 L463.74,276.70 L464.74,276.81 L465.73,276.92 L466.72,277.03 L467.71,277.15 L468.71,277.26 L469.70,277.36 L470.69,277.47 L471.69,277.58 L472.68,277.69 L473.67,277.79 L474.67,277.90 L475.66,278.00 L476.66,278.11 L477.65,278.21 L478.64,278.31 L479.64,278.41 L480.63,278.51 L481.62,278.61 L482.62,278.71 L483.61,278.81 L484.61,278.91 L485.60,279.00 L486.60,279.10 L487.59,279.19 L488.58,279.29 L489.58,279.38 L490.57,279.48 L491.57,279.57 L492.56,279.66 L493.56,279.75 L494.55,279.84 L495.55,279.93 L496.54,280.02 L497.54,280.11 L498.53,280.20 L499.53,280.28 L500.52,280.37 L501.52,280.46 L502.51,280.54 L503.51,280.63 L504.50,280.71 L505.50,280.79 L506.49,280.88 L507.49,280.96 L508.48,281.04 L509.48,281.12 L510.47,281.20 L511.47,281.28 L512.46,281.36 L513.46,281.44 L514.45,281.51 L515.45,281.59 L516.45,281.67 L517.44,281.74 L518.44,281.82 L519.43,281.89 L520.43,281.97 L521.42,282.04 L522.42,282.11 L523.42,282.19 L524.41,282.26 L525.41,282.33 L526.40,282.40 L527.40,282.47 L528.40,282.54 L529.39,282.61 L530.39,282.68 L531.38,282.75 L532.38,282.81 L533.38,282.88 L534.37,282.95 L535.37,283.01 L536.37,283.08 L537.36,283.14 L538.36,283.21 L539.36,283.27 L540.35,283.34 L541.35,283.40 L542.35,283.46 L543.34,283.52 L544.34,283.58 L545.34,283.65 L546.33,283.71 L547.33,283.77 L548.33,283.83 L549.32,283.89 L550.32,283.94 L551.32,284.00 L552.31,284.06 L553.31,284.12 L554.31,284.18 L555.30,284.23 L556.30,284.29 L557.30,284.34 L558.30,284.40 L559.29,284.45 L560.29,284.51 L561.29,284.56 L562.28,284.62 L563.28,284.67 L564.28,284.72 L565.28,284.78 L566.27,284.83 L567.27,284.88 L568.27,284.93 L569.26,284.98 L570.26,285.03 L571.26,285.08 L572.26,285.13 L573.25,285.18 L574.25,285.23 L575.25,285.28 L576.25,285.33 L577.24,285.38 L578.24,285.43 L579.24,285.48 L580.24,285.52 L581.23,285.57 L582.23,285.62 L583.23,285.66 L584.23,285.71 L585.23,285.76 L586.22,285.80 L587.22,285.85 L588.22,285.89 L589.22,285.94 L590.21,285.98 L591.21,286.03 L592.21,286.07 L593.21,286.11 L594.20,286.16 L595.20,286.20 L596.20,286.24 L597.20,286.28 L598.20,286.33 L599.19,286.37 L600.19,286.41 L601.19,286.45 L602.19,286.49 L603.19,286.54 L604.18,286.58 L605.18,286.62 L606.18,286.66 L607.18,286.70 L608.18,286.74 L609.17,286.78 L610.17,286.82 L611.17,286.86 L612.17,286.90 L613.17,286.94 L614.16,286.98 L615.16,287.02 L616.16,287.05 L617.16,287.09 L618.16,287.13 L619.15,287.17 L620.15,287.21 L621.15,287.25 L622.15,287.28 L623.15,287.32 L624.14,287.36 L625.14,287.40 L626.14,287.43 L627.14,287.47 L628.14,287.51 L629.14,287.55 L630.13,287.58 L631.13,287.62 L632.13,287.66 L633.13,287.69 L634.13,287.73 L635.12,287.77 L636.12,287.80 L637.12,287.84 L638.12,287.87 L639.12,287.91 L640.12,287.95 L641.11,287.98 L642.11,288.02 L643.11,288.05 L644.11,288.09 L645.11,288.13 L646.10,288.16 L647.10,288.20 L648.10,288.23 L649.10,288.27 L650.10,288.31 L651.09,288.34 L652.09,288.38 L653.09,288.41 L654.09,288.45 L655.09,288.48 L656.09,288.52 L657.08,288.56 L658.08,288.59 L659.08,288.63 L660.08,288.66 L661.08,288.70 L662.07,288.73 L663.07,288.77 L664.07,288.81 L665.07,288.84 L666.07,288.88 L667.06,288.91 L668.06,288.95 L669.06,288.99 L670.06,289.02 L671.06,289.06 L672.05,289.10 L673.05,289.13 L674.05,289.17 L675.05,289.20 L676.05,289.24 L677.04,289.28 L678.04,289.32 L679.04,289.35 L680.04,289.39 L681.03,289.43 L682.03,289.46 L683.03,289.50 L684.03,289.54 L685.03,289.58 L686.02,289.61 L687.02,289.65 L688.02,289.69 L689.02,289.73 L690.01,289.77 L691.01,289.81 L692.01,289.84 L693.01,289.88 L694.00,289.92 L695.00,289.96 L696.00,290.00"/>
</g>
<g stroke-width="2.8" stroke-linecap="butt">
<line x1="512.3" y1="51.5" x2="547.5" y2="51.5" stroke="#C00000"/>
<line x1="512.3" y1="95.5" x2="547.5" y2="95.5" stroke="#5B9BD5"/>
<line x1="512.3" y1="139.3" x2="547.5" y2="139.3" stroke="#000"/>
</g>
<g font-size="15.6" fill="#000">
<text x="550.5" y="56.5">Amp B</text>
<text x="550.5" y="100.5">Amp-ZnAl-LDH</text>
<text x="550.5" y="144.3">ZnAl-LDH precursor</text>
</g>
</svg>
</body></html>
